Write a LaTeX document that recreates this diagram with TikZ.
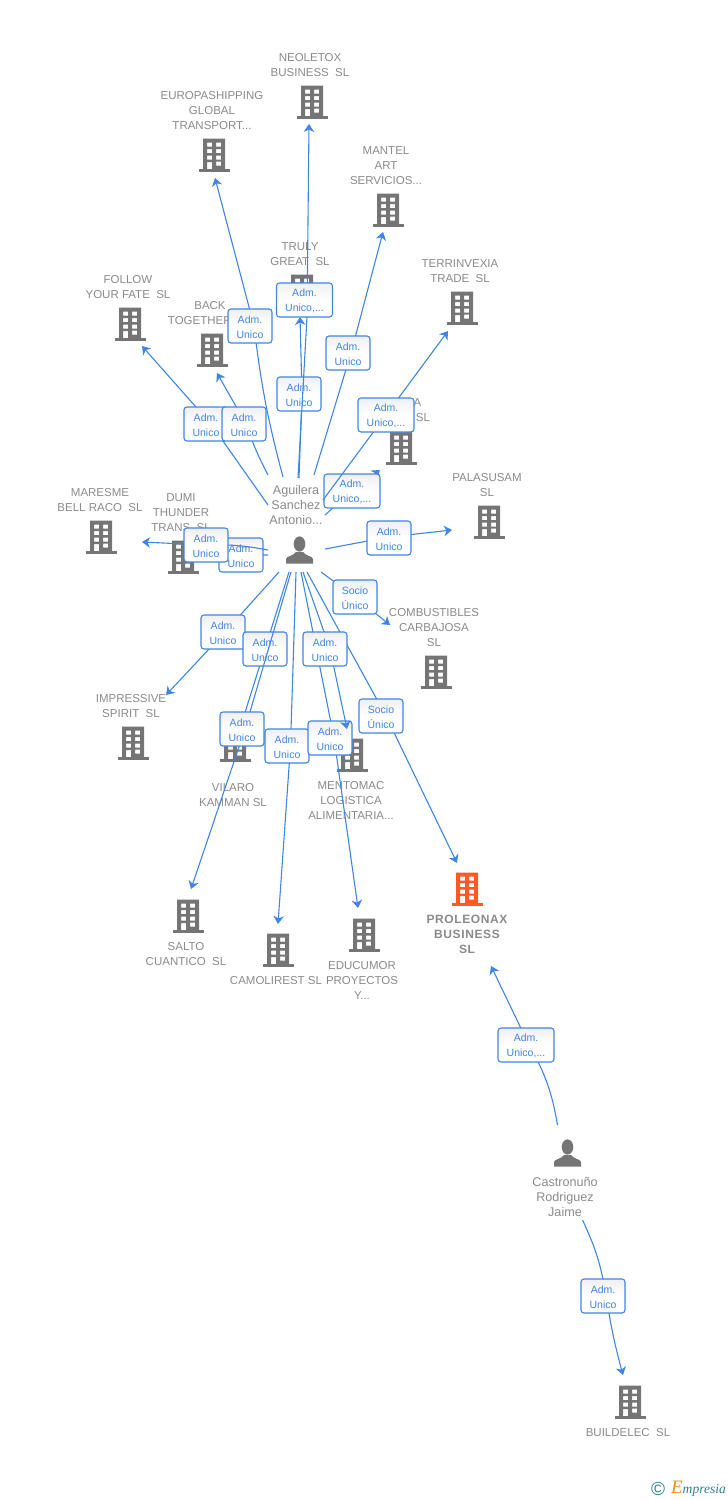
\documentclass[tikz,border=0pt]{standalone}
\usepackage{fontspec}
\setmainfont{Liberation Sans}
\newfontfamily\logofont{Liberation Serif}
\usetikzlibrary{arrows.meta}
\definecolor{lnk}{HTML}{3F85E4}
\definecolor{lbl}{HTML}{8A8A8A}
\definecolor{ico}{HTML}{757575}
\definecolor{hot}{HTML}{FF5A26}
\definecolor{teal1}{HTML}{2F7F93}
\definecolor{orng}{HTML}{F58A1F}
\newcommand\up{\rule{0pt}{9.8pt}}
\tikzset{
  x=1pt,y=-1pt,
  bldg/.style={rectangle,inner sep=0pt,minimum width=32pt,minimum height=33pt,
    path picture={\begin{scope}[shift={(path picture bounding box.center)}]
      \fill[#1,even odd rule] (-11,-16.5) rectangle (11,14)
        (-7,-12.5) rectangle (-2,-8.5) (2,-12.5) rectangle (7,-8.5)
        (-7,-6) rectangle (-2,-2) (2,-6) rectangle (7,-2)
        (-7,0.5) rectangle (-2,4.5) (2,0.5) rectangle (7,4.5)
        (-7,7) rectangle (-2,14) (2,6.5) rectangle (7,10.5);
      \fill[#1] (-15.5,14) rectangle (15.5,16.5);
    \end{scope}}},
  bldg/.default=ico,
  pers/.style={rectangle,inner sep=0pt,minimum width=28pt,minimum height=28pt,
    path picture={\begin{scope}[shift={(path picture bounding box.center)}]
      \fill[ico] (0,-6) ellipse (5.8 and 7.6);
      \fill[ico] (-13.5,13.5) -- (-13.5,9) .. controls (-13,6) and (-6,6) .. (-3.5,2)
        -- (3.5,2) .. controls (6,6) and (13,6) .. (13.5,9) -- (13.5,13.5) -- cycle;
    \end{scope}}},
  name label/.style={text=lbl,align=center,inner sep=0pt,yshift=-1.5pt,font=\fontsize{11.5}{15}\selectfont},
  person label/.style={name label,font=\fontsize{12.6}{15}\selectfont},
  box/.style={draw=lnk,line width=1.1pt,rounded corners=3pt,top color=black!6,bottom color=white,
    middle color=white,text=lnk,align=center,inner sep=0pt,minimum width=#1,minimum height=34pt,
    font=\fontsize{10.5}{15}\selectfont},
  box/.default=44pt,
  link/.style={draw=lnk,line width=1.1pt},
  tip/.style={link,-{Stealth[length=8pt,width=10.5pt,inset=2.5pt]}},
}
\begin{document}
\begin{tikzpicture}
\useasboundingbox (0,0) rectangle (728,1500);
% company and person icons
\node[bldg] (neoletox) at (312,102) {};
\node[bldg] (europa) at (214,155) {};
\node[bldg] (mantel) at (388,210) {};
\node[bldg] (truly) at (302,291) {};
\node[bldg] (terrin) at (462,308) {};
\node[bldg] (follow) at (130,324) {};
\node[bldg] (back) at (212,350) {};
\node[bldg] (hidden) at (401,448) {};
\node[bldg] (palasusam) at (489,522) {};
\node[bldg] (maresme) at (101,537) {};
\node[bldg] (dumi) at (183,557) {};
\node[bldg] (combust) at (436,672) {};
\node[bldg] (impressive) at (133,743) {};
\node[bldg] (vilaro) at (235,745) {};
\node[bldg] (mentomac) at (352,755) {};
\node[bldg] (salto) at (188,916) {};
\node[bldg] (camolirest) at (278,950) {};
\node[bldg] (educumor) at (364,935) {};
\node[bldg=hot] (proleonax) at (467,889) {};
\node[bldg] (buildelec) at (630,1402) {};
\node[pers] (aguilera) at (299.5,550) {};
\node[pers] (castro) at (567.5,1153) {};
\node[rectangle,inner sep=0pt,minimum width=57pt,minimum height=94pt] (hub) at (296.5,525) {};
% name labels
\node[name label] (l1) at (310,63.5) {NEOLETOX\\BUSINESS\ \ SL};
\node[name label] (l2) at (212,109) {EUROPASHIPPING\\GLOBAL\\TRANSPORT...};
\node[name label] (l3) at (386,164) {MANTEL\\ART\\SERVICIOS...};
\node[name label] (l4) at (300,252.5) {TRULY\\GREAT\ \ SL};
\node[name label] (l5) at (460,269.5) {TERRINVEXIA\\TRADE\ \ SL};
\node[name label] (l6) at (128,285.5) {FOLLOW\\YOUR FATE\ \ SL};
\node[name label] (l7) at (210,311.5) {BACK\\TOGETHER\ \ SL};
\node[name label] (l8a) at (417.5,401) {A};
\node[name label] (l8b) at (423,416) {SL};
\node[name label] (l9) at (487,483.5) {PALASUSAM\\SL};
\node[name label] (l10) at (434,626) {COMBUSTIBLES\\CARBAJOSA\\SL};
\node[name label] (l11) at (100,498.5) {MARESME\\BELL RACO\ \ SL};
\node[name label] (l12) at (181,511) {DUMI\\THUNDER\\TRANS\ \ SL};
\node[name label] (l13) at (131,704.5) {IMPRESSIVE\\SPIRIT\ \ SL};
\node[name label] (l14) at (233,793.5) {VILARO\\KAMMAN SL};
\node[name label] (l15) at (351,799) {MENTOMAC\\LOGISTICA\\ALIMENTARIA...};
\node[name label] (l16) at (186,952.5) {SALTO\\CUANTICO\ \ SL};
\node[name label] (l17) at (276,979) {CAMOLIREST SL};
\node[name label] (l18) at (362,979) {EDUCUMOR\\PROYECTOS\\Y...};
\node[name label,font=\fontsize{12}{15}\selectfont\bfseries\addfontfeatures{LetterSpace=5}] (l19) at (467,933) {PROLEONAX\\BUSINESS\\SL};
\node[person label] (l20) at (565,1196) {Castronuño\\Rodriguez\\Jaime};
\node[name label] (l21) at (628,1431) {BUILDELEC\ \ SL};
\node[person label] (l22) at (296,503) {Aguilera\\Sanchez\\Antonio...};
% connectors and their role boxes, in stacking order
\coordinate (m-dum) at (241,555);
\draw[tip] ([shift={(-28.5,30)}]hub.center) -- (m-dum) -- ([shift={(42,-5)}]dumi.center);
\node[box] (b-dumi) at (241,555) {\up Adm.\\Unico};
\draw[link] ([shift={(-28.5,25)}]hub.center) to[bend right=6] (206,545) coordinate (m-mare);
\draw[tip] (m-mare) -- ([shift={(41,5)}]maresme.center);
\node[box] (b-mare) at (206,545) {\up Adm.\\Unico};
% follow, back
\draw[link] ([shift={(-28.5,-20)}]hub.center) -- (211,424) coordinate (m-fol);
\draw[tip] (m-fol) -- ([shift={(12,22)}]follow.center);
\node[box] (b-fol) at (206,424) {\up Adm.\\Unico};
\draw[link] ([shift={(-28.5,-50)}]hub.center) to[bend left=4] (246,424) coordinate (m-back);
\draw[tip] (m-back) -- ([shift={(5,23)}]back.center);
\node[box] (b-back) at (244,424) {\up Adm.\\Unico};
% europashipping
\draw[link] ([shift={(-13.5,-48)}]hub.center) to[bend left=4] (254,326) coordinate (m-eur);
\draw[tip] (m-eur) -- ([shift={(1,23)}]europa.center);
\node[box] (b-eur) at (250,326) {\up Adm.\\Unico};
% truly great
\draw[tip] ([shift={(2.5,-47)}]hub.center) -- (302,394) coordinate (m-tru) -- ([shift={(-2,26)}]truly.center);
\node[box] (b-tru) at (299,394) {\up Adm.\\Unico};
% neoletox
\draw[tip] ([shift={(1.5,-47)}]hub.center) -- (307,317) coordinate (m-neo) -- ([shift={(-3,22)}]neoletox.center);
\node[box=56pt] (b-neo) at (304.5,300) {\up Adm.\\Unico,...};
% mantel
\draw[tip] ([shift={(17.5,-50)}]hub.center) -- (351,353) coordinate (m-man) -- ([shift={(-5,22)}]mantel.center);
\node[box] (b-man) at (348,353) {\up Adm.\\Unico};
% hidden company
\draw[link] ([shift={(28.5,-10)}]hub.center) -- (352,491) coordinate (m-hid);
\draw[tip] (m-hid) -- ([shift={(-21,22)}]hidden.center);
\node[box=56pt] (b-hid) at (352,491) {\up Adm.\\Unico,...};
% terrinvexia
\draw[tip] ([shift={(26.5,-25)}]hub.center) -- (386,415) coordinate (m-ter) -- ([shift={(-14,23)}]terrin.center);
\node[box=56pt] (b-ter) at (386,415) {\up Adm.\\Unico,...};
% palasusam
\draw[tip] ([shift={(28.5,24)}]hub.center) -- (389,537) coordinate (m-pal) -- ([shift={(-37,8)}]palasusam.center);
\node[box] (b-pal) at (389,538) {\up Adm.\\Unico};
% combustibles
\draw[tip] ([shift={(24.5,47)}]hub.center) -- (355,597) coordinate (m-com) -- ([shift={(-46,-47)}]combust.center);
\node[box] (b-com) at (355,597) {\up Socio\\Único};
% proleonax
\draw[tip] ([shift={(10.5,47)}]hub.center) -- (386,716) coordinate (m-pro) -- ([shift={(-10,-26)}]proleonax.center);
\node[box] (b-pro) at (381,716) {\up Socio\\Único};
% impressive
\draw[tip] ([shift={(-17.5,47)}]hub.center) -- (225,632) coordinate (m-imp) -- ([shift={(33,-48)}]impressive.center);
\node[box] (b-imp) at (223,632) {\up Adm.\\Unico};
% vilaro
\draw[tip] ([shift={(-7.5,47)}]hub.center) -- (265,649) coordinate (m-vil) -- ([shift={(7,-23)}]vilaro.center);
\node[box] (b-vil) at (265,649) {\up Adm.\\Unico};
% salto
\draw[tip] ([shift={(-5.5,47)}]hub.center) -- (245,729) coordinate (m-sal) -- ([shift={(3,-27)}]salto.center);
\node[box] (b-sal) at (242,729) {\up Adm.\\Unico};
% camolirest
\draw[tip] ([shift={(-0.5,47)}]hub.center) -- (290.5,746) coordinate (m-cam) -- ([shift={(0,-26)}]camolirest.center);
\node[box] (b-cam) at (287,746) {\up Adm.\\Unico};
% educumor
\draw[link] ([shift={(4.5,47)}]hub.center) -- (334,738) coordinate (m-edu);
\draw[tip] (m-edu) -- ([shift={(-6,-27)}]educumor.center);
\node[box] (b-edu) at (330,738) {\up Adm.\\Unico};
% mentomac
\draw[tip] ([shift={(6.5,47)}]hub.center) -- (330,649) coordinate (m-men) -- ([shift={(-5,-26)}]mentomac.center);
\node[box] (b-men) at (325,649) {\up Adm.\\Unico};
% castronuno
\draw[link] ([shift={(-10,-28)}]castro.center) to[bend right=10] (529,1045) coordinate (m-c1);
\draw[tip] (m-c1) -- ([shift={(24,77)}]proleonax.center);
\node[box=56pt] (b-c1) at (526,1045) {\up Adm.\\Unico,...};
\draw[link] ([shift={(15,67)}]castro.center) to[bend left=8] (606,1296) coordinate (m-c2);
\draw[tip] (m-c2) to[bend right=3] ([shift={(-7,-27)}]buildelec.center);
\node[box] (b-c2) at (603,1296) {\up Adm.\\Unico};
% logo
\node[inner sep=0pt,text=teal1,font=\fontsize{19}{19}\selectfont] (copy) at (658,1488.5) {©};
\node[inner sep=0pt,text=orng,font=\logofont\itshape\fontsize{19}{19}\selectfont] (logoe) at (677,1487) {E};
\node[inner sep=0pt,text=teal1,anchor=west,font=\logofont\itshape\fontsize{13.6}{14}\selectfont] (logot) at (682.5,1490) {mpresia};
\end{tikzpicture}
\end{document}
